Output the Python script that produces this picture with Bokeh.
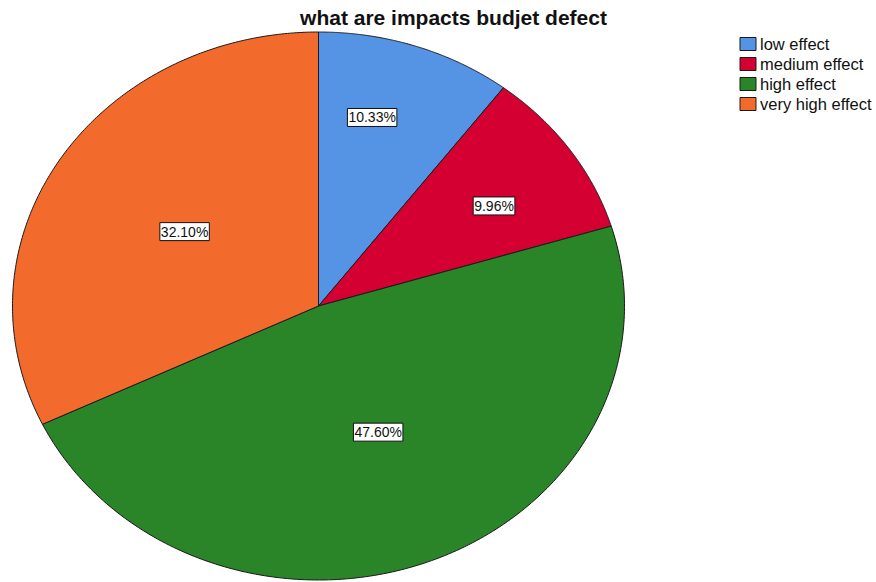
import numpy as np
from bokeh.plotting import figure
from bokeh.models import Range1d, ColumnDataSource
from bokeh.core.properties import value
from bokeh.embed import file_html
from bokeh.resources import INLINE

title = "what are impacts budjet defect"
categories = ["low effect", "medium effect", "high effect", "very high effect"]
percents = [10.33, 9.96, 47.60, 32.10]
labels = ["10.33%", "9.96%", "47.60%", "32.10%"]
colors = ["#5594E4", "#D50032", "#2A8529", "#F26A2C"]

# layout (screen-like coordinates)
W, H = 876, 582
cx, cy, rx, ry = 318, 305.5, 306, 274
label_r = [0.71, 0.68, 0.50, 0.515]
label_da = [-4.3, 2.4, -1.7, -0.4]

p = figure(width=W, height=H, output_backend="svg", toolbar_location=None,
           x_range=Range1d(0, W), y_range=Range1d(H, 0),
           min_border=0, outline_line_color=None)
p.axis.visible = False
p.grid.visible = False

total = sum(percents)
cum = np.concatenate([[0], np.cumsum(percents)]) / total * 360.0
xs, ys, lx, ly = [], [], [], []
for i in range(len(percents)):
    a0, a1 = cum[i], cum[i + 1]
    t = np.radians(np.linspace(a0, a1, 200))
    xs.append(list(np.concatenate([[cx], cx + rx * np.sin(t), [cx]])))
    ys.append(list(np.concatenate([[cy], cy - ry * np.cos(t), [cy]])))
    m = np.radians((a0 + a1) / 2 + label_da[i])
    lx.append(cx + label_r[i] * rx * np.sin(m))
    ly.append(cy - label_r[i] * ry * np.cos(m))

src = ColumnDataSource(dict(xs=xs, ys=ys, color=colors, cat=categories))
p.patches("xs", "ys", source=src, fill_color="color", line_color="#1a1a1a",
          line_width=1)

p.text(x=lx, y=ly, text=labels, text_font=value("Liberation Sans"),
       text_font_size="14px", text_align="center", text_baseline="middle",
       text_color="#111111", background_fill_color="white",
       border_line_color="#111111", border_line_width=1, padding=1)

# title
p.text(x=[453], y=[17], text=[title], text_font=value("Liberation Sans"),
       text_font_size="21px", text_font_style="bold", text_align="center",
       text_baseline="middle", text_color="#111111")

# legend
leg_x, leg_y0, leg_dy = 747.5, 43.5, 20
ly_leg = [leg_y0 + i * leg_dy for i in range(len(categories))]
p.rect(x=[leg_x] * len(categories), y=ly_leg, width=16, height=13,
       width_units="screen", height_units="screen", fill_color=colors,
       line_color="#1a1a1a", line_width=1)
p.text(x=[leg_x + 12] * len(categories), y=ly_leg, text=categories,
       text_font=value("Liberation Sans"), text_font_size="16.5px",
       text_baseline="middle", text_color="#111111")

open("out.html", "w").write(file_html(p, INLINE))
